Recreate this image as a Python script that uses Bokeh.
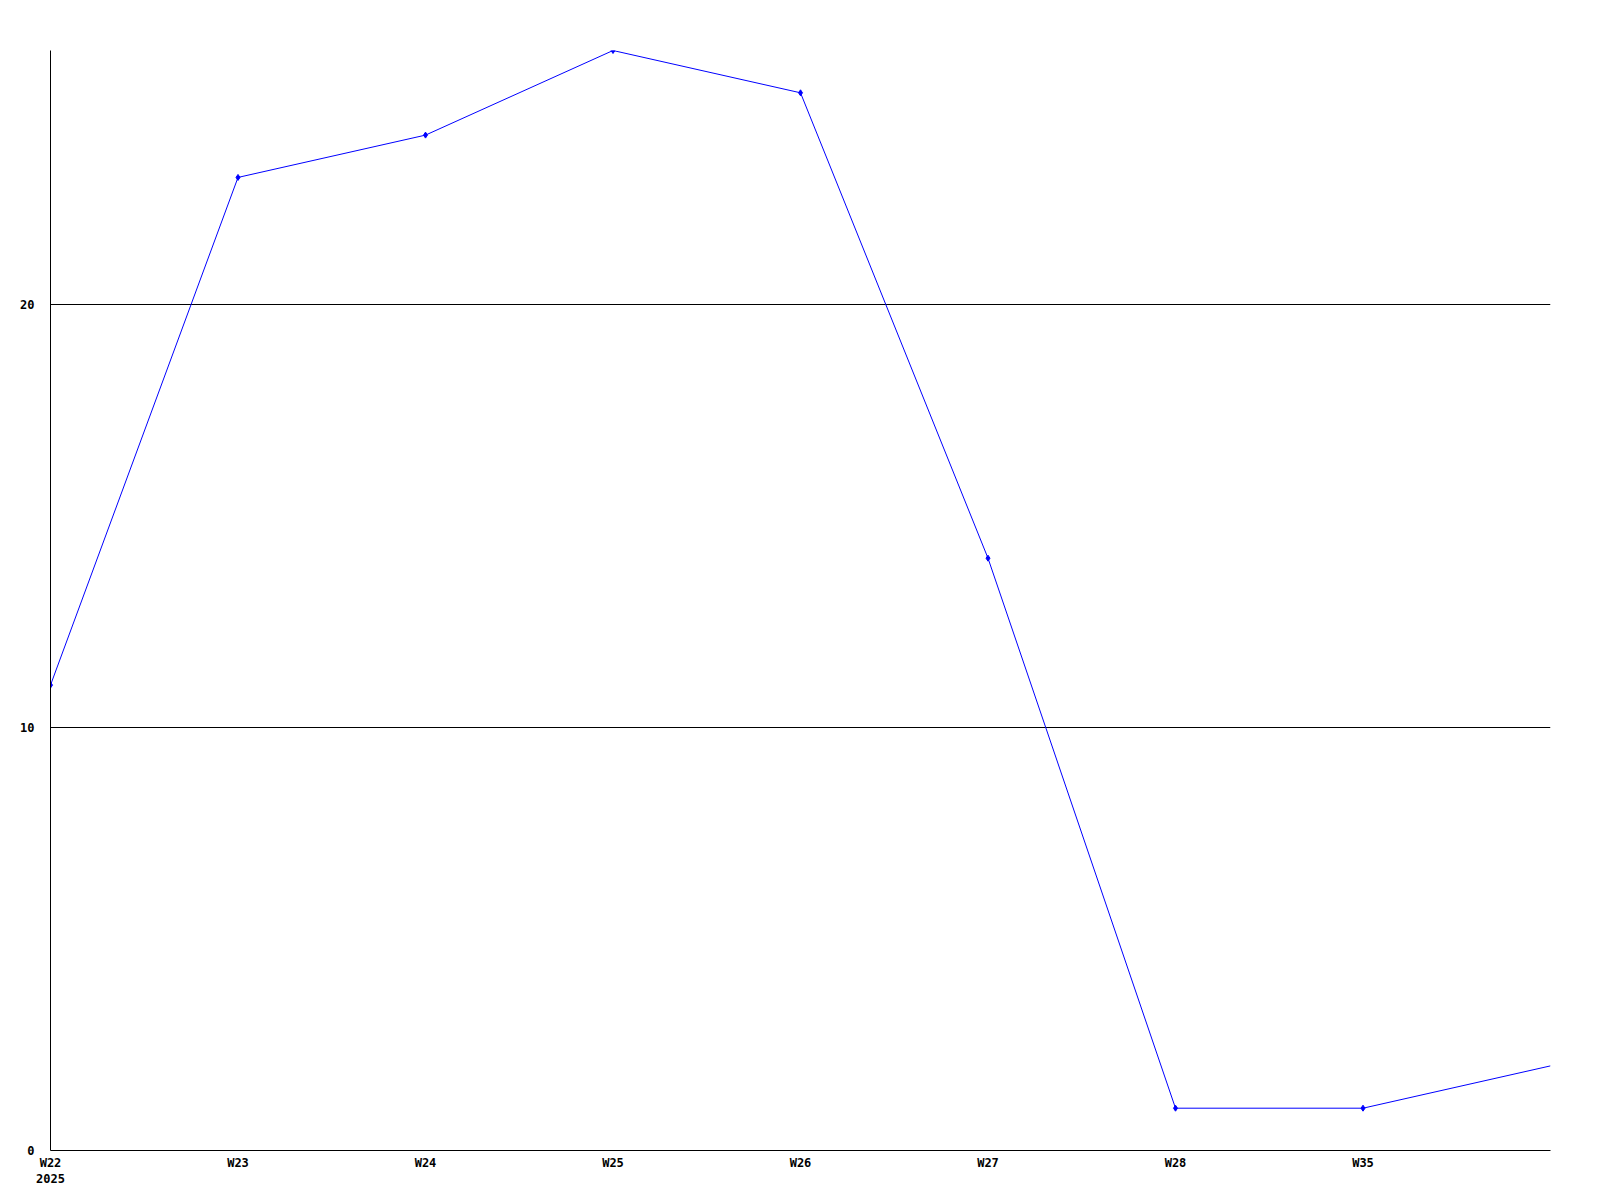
from bokeh.plotting import figure
from bokeh.models import Range1d, FixedTicker
from bokeh.embed import file_html
from bokeh.resources import INLINE

weeks = ["W22", "W23", "W24", "W25", "W26", "W27", "W28", "W35", "W36"]
values = [11, 23, 24, 26, 25, 14, 1, 1, 2]
year_label = "2025"
y_ticks = [0, 10, 20]

xs = list(range(len(weeks)))
tick_idx = xs[:-1]
labels = {i: weeks[i] for i in tick_idx}
labels[0] = weeks[0] + "\n" + year_label

p = figure(width=1584, height=1189, output_backend="svg", toolbar_location=None,
           x_range=Range1d(0, len(weeks) - 1), y_range=Range1d(0, 26),
           min_border_left=50, min_border_right=34, min_border_top=50, min_border_bottom=34)
p.outline_line_color = None
p.background_fill_color = "white"
p.border_fill_color = "white"

p.line(xs, values, line_color="#0000ff", line_width=1)
p.scatter(xs[:-1], values[:-1], marker="diamond", size=6, fill_color="#0000ff", line_color="#0000ff")

p.xaxis.ticker = FixedTicker(ticks=tick_idx)
p.xaxis.major_label_overrides = labels
p.yaxis.ticker = FixedTicker(ticks=y_ticks)
for ax in (p.xaxis, p.yaxis):
    ax.major_tick_out = 0
    ax.major_tick_in = 0
    ax.minor_tick_out = 0
    ax.minor_tick_in = 0
    ax.axis_line_color = "black"
    ax.axis_line_width = 1
    ax.major_label_text_font = "DejaVu Sans Mono"
    ax.major_label_text_font_style = "bold"
    ax.major_label_text_font_size = "12px"
    ax.major_label_text_color = "black"
p.xaxis.major_label_standoff = 5
p.yaxis.major_label_standoff = 16

p.xgrid.grid_line_color = None
p.ygrid.ticker = FixedTicker(ticks=y_ticks)
p.ygrid.grid_line_color = "black"
p.ygrid.grid_line_width = 1
p.ygrid.grid_line_alpha = 1.0

open("out.html", "w").write(file_html(p, INLINE))
